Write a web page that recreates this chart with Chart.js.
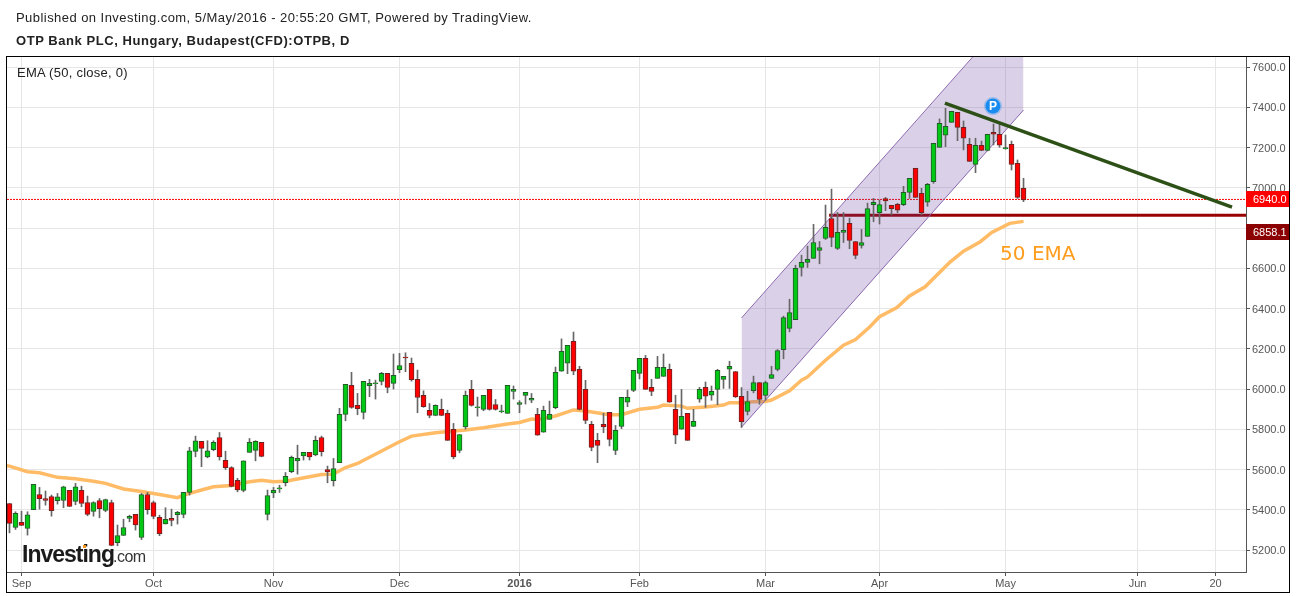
<!DOCTYPE html>
<html>
<head>
<meta charset="utf-8">
<title>OTPB</title>
<script src="https://cdn.jsdelivr.net/npm/chart.js@4/dist/chart.umd.min.js"></script>
<style>
    html, body { margin: 0; padding: 0; background: #fff; overflow: hidden; }
    #wrap { position: relative; width: 1297px; height: 596px; font-family: "Liberation Sans", Arial, sans-serif; }
    canvas { position: absolute; left: 0; top: 0; }
    .label { position: absolute; white-space: nowrap; color: #222; }
    #published { left: 16px; top: 10px; font-size: 13px; letter-spacing: 0.447px; }
    #symbol { left: 16px; top: 33px; font-size: 13px; font-weight: bold; letter-spacing: 0.556px; }
    #emaLabel { left: 17px; top: 65px; font-size: 13px; letter-spacing: 0.26px; }
</style>
</head>
<body>
<div id="wrap">
    <canvas id="chart" width="1297" height="596"></canvas>
    <div class="label" id="published">Published on Investing.com, 5/May/2016 - 20:55:20 GMT, Powered by TradingView.</div>
    <div class="label" id="symbol">OTP Bank PLC, Hungary, Budapest(CFD):OTPB, D</div>
    <div class="label" id="emaLabel">EMA (50, close, 0)</div>
</div>
<script>
// daily candles
const opens = [
    5431, 5312, 5337, 5307, 5401, 5476, 5456, 5466, 5445, 5446,
    5496, 5441, 5496, 5436, 5392, 5446, 5397, 5436, 5236, 5272,
    5357, 5377, 5262, 5476, 5436, 5362, 5330, 5357, 5375, 5377,
    5486, 5690, 5740, 5663, 5698, 5759, 5645, 5610, 5546, 5496,
    5685, 5695, 5735, 5377, 5484, 5504, 5534, 5589, 5643, 5668,
    5685, 5673, 5759, 5600, 5544, 5634, 5874, 6018, 5919, 5884,
    6016, 6026, 6038, 6078, 6028, 6096, 6159, 6127, 6048, 5968,
    5894, 5869, 5899, 5879, 5799, 5695, 5812, 5998, 5907, 5899,
    5998, 5923, 5887, 5879, 5988, 5923, 5968, 5944, 5874, 5785,
    5849, 5907, 6088, 6128, 6237, 6098, 5998, 5824, 5745, 5824,
    5884, 5695, 5814, 5934, 5993, 6078, 6152, 6008, 6053, 6063,
    6098, 5899, 5800, 5879, 5814, 5949, 6008, 5969, 5998, 6048,
    6098, 6087, 5963, 5888, 5992, 6032, 5968, 6052, 6097, 6196,
    6301, 6345, 6604, 6629, 6649, 6688, 6748, 6847, 6698, 6778,
    6823, 6733, 6713, 6758, 6916, 6876, 6946, 6913, 6918, 6916,
    6977, 7097, 6972, 6928, 7030, 7201, 7261, 7325, 7375, 7300,
    7216, 7116, 7211, 7186, 7276, 7266, 7194, 7216, 7121, 6997
];
const highs = [
    5431, 5390, 5393, 5390, 5526, 5511, 5493, 5473, 5481, 5517,
    5496, 5531, 5517, 5468, 5440, 5456, 5453, 5448, 5324, 5353,
    5373, 5377, 5481, 5486, 5443, 5373, 5410, 5403, 5392, 5486,
    5710, 5766, 5740, 5743, 5743, 5784, 5691, 5614, 5556, 5643,
    5754, 5743, 5735, 5498, 5511, 5522, 5585, 5667, 5721, 5685,
    5685, 5766, 5766, 5617, 5655, 5904, 6023, 6083, 5978, 6038,
    6048, 6044, 6083, 6078, 6174, 6177, 6180, 6154, 6094, 5991,
    5928, 5921, 5950, 5895, 5829, 5774, 5990, 6043, 5960, 5968,
    5998, 5948, 5920, 6018, 6015, 5942, 5983, 5978, 5904, 5915,
    5940, 6109, 6249, 6217, 6283, 6113, 6043, 5839, 5780, 5879,
    5884, 5819, 5959, 5995, 6093, 6152, 6167, 6048, 6162, 6174,
    6124, 5969, 5998, 5879, 5899, 6008, 6035, 6015, 6098, 6063,
    6138, 6087, 6007, 5989, 6064, 6032, 6039, 6113, 6196, 6362,
    6446, 6615, 6665, 6710, 6818, 6733, 6914, 6993, 6877, 6877,
    6849, 6733, 6793, 6924, 6947, 6939, 6952, 6913, 6923, 7007,
    7047, 7097, 6997, 7022, 7221, 7342, 7395, 7380, 7375, 7332,
    7246, 7246, 7232, 7266, 7317, 7320, 7262, 7232, 7138, 7047
];
const lows = [
    5285, 5302, 5322, 5274, 5401, 5403, 5423, 5368, 5428, 5410,
    5416, 5425, 5415, 5370, 5368, 5360, 5390, 5221, 5221, 5272,
    5340, 5299, 5252, 5378, 5355, 5271, 5329, 5320, 5329, 5360,
    5473, 5663, 5614, 5658, 5693, 5647, 5600, 5514, 5489, 5489,
    5685, 5643, 5663, 5349, 5460, 5486, 5518, 5584, 5577, 5647,
    5647, 5668, 5667, 5534, 5518, 5634, 5842, 5904, 5872, 5851,
    5962, 5950, 6020, 5981, 6000, 6081, 6086, 6039, 5882, 5909,
    5857, 5867, 5867, 5745, 5653, 5683, 5801, 5915, 5865, 5892,
    5895, 5895, 5882, 5879, 5950, 5882, 5925, 5932, 5770, 5785,
    5849, 5902, 6088, 6076, 6071, 5896, 5828, 5693, 5634, 5783,
    5717, 5674, 5803, 5912, 5987, 6050, 5998, 5967, 6053, 6063,
    5934, 5728, 5800, 5745, 5814, 5934, 5909, 5944, 5922, 6003,
    6003, 5958, 5809, 5871, 5981, 5924, 5944, 6052, 6090, 6150,
    6284, 6345, 6561, 6604, 6649, 6622, 6743, 6707, 6693, 6728,
    6697, 6647, 6700, 6758, 6831, 6820, 6886, 6865, 6876, 6911,
    6947, 6952, 6865, 6908, 7022, 7201, 7204, 7325, 7234, 7188,
    7131, 7075, 7184, 7183, 7213, 7201, 7191, 7088, 6947, 6931
];
const closes = [
    5332, 5382, 5322, 5375, 5526, 5455, 5446, 5395, 5464, 5514,
    5416, 5514, 5431, 5377, 5436, 5406, 5451, 5223, 5272, 5312,
    5367, 5325, 5476, 5401, 5367, 5281, 5352, 5347, 5387, 5486,
    5693, 5743, 5705, 5693, 5735, 5663, 5609, 5516, 5499, 5643,
    5735, 5740, 5665, 5471, 5496, 5509, 5566, 5660, 5655, 5685,
    5663, 5745, 5688, 5588, 5605, 5874, 6023, 5909, 5902, 6038,
    6028, 6031, 6078, 6008, 6068, 6117, 6154, 6046, 5958, 5912,
    5869, 5919, 5869, 5745, 5663, 5774, 5968, 5919, 5912, 5968,
    5899, 5899, 5892, 6018, 5998, 5933, 5983, 5954, 5770, 5894,
    5874, 6083, 6187, 6217, 6088, 5899, 5844, 5710, 5720, 5812,
    5750, 5795, 5959, 5959, 6093, 6152, 5998, 5988, 6108, 6108,
    5934, 5770, 5864, 5745, 5839, 5998, 5964, 5988, 6093, 6063,
    6113, 5961, 5838, 5938, 6032, 5948, 6032, 6072, 6191, 6355,
    6380, 6599, 6629, 6644, 6728, 6703, 6803, 6753, 6778, 6788,
    6738, 6664, 6728, 6897, 6928, 6916, 6934, 6896, 6888, 6977,
    7047, 6952, 6876, 7017, 7221, 7320, 7305, 7380, 7300, 7246,
    7131, 7211, 7186, 7266, 7266, 7211, 7199, 7116, 6952, 6940
];

// 50 EMA, sampled along the orange line
const emaIndex = [
    -1, 0, 3, 5, 8, 11, 14, 16, 19, 22, 25, 28, 29, 32, 34, 37, 40, 42, 44, 46,
    50, 52, 54, 56, 58, 65, 67, 71, 74, 76, 79, 83, 85, 87, 88, 91, 94, 96, 100, 102,
    105, 108, 109, 112, 113, 116, 119, 120, 122, 124, 126, 127, 130, 132, 133, 136, 139, 141, 143.4, 145,
    147.9, 150, 152.6, 156.8, 159, 161.8, 163.7, 166.7, 169
];
const emaValues = [
    5622, 5617, 5589, 5584, 5561, 5554, 5542, 5531, 5503, 5491, 5476, 5460, 5473, 5498, 5514, 5521, 5539, 5547, 5539, 5542,
    5564, 5575, 5577, 5610, 5630, 5738, 5766, 5783, 5791, 5796, 5807, 5826, 5834, 5851, 5848, 5866, 5896, 5891, 5872, 5872,
    5899, 5909, 5920, 5915, 5904, 5911, 5920, 5932, 5932, 5937, 5938, 5945, 5991, 6044, 6060, 6143, 6218, 6246, 6309, 6359,
    6405, 6462, 6508, 6632, 6685, 6732, 6778, 6823, 6833
];

// drawings on the chart: [bar index, price]
const channelUpper = [[122, 6353], [169, 7935]];
const channelLower = [[122, 5810], [169, 7386]];
const trendLine = [[155.9, 7421], [203.75, 6904]];
const supportLine = [[136.6, 6863], [207, 6863]];

const lastPrice = 6942;
const priceTicks = [5200, 5400, 5600, 5800, 6000, 6200, 6400, 6600, 6800, 7000, 7200, 7400, 7600];
const timeTicks = [2, 24, 44, 65, 85, 105, 126, 145, 166, 188, 201];
const timeLabels = ['Sep', 'Oct', 'Nov', 'Dec', '2016', 'Feb', 'Mar', 'Apr', 'May', 'Jun', '20'];

const xMin = -0.4167;
const xMax = 206.08;
const yMin = 5090.7;
const yMax = 7649.7;

const pts = arr => arr.map(p => ({ x: p[0], y: p[1] }));
const isUp = i => closes[i] >= opens[i];

const wicks = highs.map((h, i) => ({ x: i, y: [lows[i], h] }));
const bodies = opens.map((o, i) => ({ x: i, y: [o, closes[i]] }));
const ema = emaIndex.map((x, i) => ({ x: x, y: emaValues[i] }));

// tags, frame, watermark and the P badge
const extras = {
    id: 'extras',
    afterDraw(chart) {
        const ctx = chart.ctx;
        const xs = chart.scales.x;
        const ys = chart.scales.y;
        ctx.save();

        // P badge
        const px = xs.getPixelForValue(163.9);
        const py = ys.getPixelForValue(7406);
        ctx.fillStyle = 'rgba(30, 144, 240, 0.35)';
        ctx.beginPath();
        ctx.arc(px, py, 9, 0, Math.PI * 2);
        ctx.fill();
        ctx.fillStyle = '#1a8cf0';
        ctx.beginPath();
        ctx.arc(px, py, 7.5, 0, Math.PI * 2);
        ctx.fill();
        ctx.fillStyle = '#fff';
        ctx.font = 'bold 12px "Liberation Sans"';
        ctx.textAlign = 'center';
        ctx.textBaseline = 'middle';
        ctx.fillText('P', px, py + 0.5);

        // 50 EMA note
        ctx.fillStyle = '#ff9d1e';
        ctx.font = '20px "DejaVu Sans"';
        ctx.textAlign = 'left';
        ctx.textBaseline = 'alphabetic';
        ctx.fillText('50 EMA', xs.getPixelForValue(165.1), ys.getPixelForValue(6642));

        // price tags
        const tag = (text, value, color) => {
            const y = ys.getPixelForValue(value);
            ctx.fillStyle = color;
            ctx.fillRect(1246, Math.round(y) - 8, 43, 16);
            ctx.fillStyle = '#fff';
            ctx.font = '11px "Liberation Sans"';
            ctx.textBaseline = 'middle';
            ctx.fillText(text, 1253, Math.round(y) + 0.5);
        };
        tag('6940.0', lastPrice, '#ff0000');
        tag('6858.1', 6780, '#8b0000');

        // watermark
        ctx.fillStyle = '#1a1a1a';
        ctx.textBaseline = 'alphabetic';
        ctx.font = 'bold 23px "Liberation Sans"';
        ctx.letterSpacing = '-1px';
        ctx.fillText('Investing', 22, 562);
        ctx.letterSpacing = '-0.5px';
        ctx.font = '16px "Liberation Sans"';
        ctx.fillStyle = '#333';
        ctx.fillText('.com', 113, 562);
        ctx.letterSpacing = '0px';
        ctx.fillStyle = '#f7941d';
        ctx.fillRect(83, 545, 3, 3);

        // outer frame
        ctx.strokeStyle = '#000';
        ctx.lineWidth = 1;
        ctx.strokeRect(6.5, 56.5, 1283, 536);
        ctx.restore();
    }
};

new Chart(document.getElementById('chart'), {
    type: 'bar',
    data: {
        datasets: [
            {
                type: 'line', data: pts([[xMin, lastPrice], [xMax, lastPrice]]), order: 7,
                borderColor: '#ff0000', borderWidth: 1, borderDash: [2, 1], pointRadius: 0
            },
            {
                type: 'line', data: ema, order: 6,
                borderColor: '#ffbb66', borderWidth: 3.5, pointRadius: 0
            },
            {
                type: 'line', data: pts(supportLine), order: 5,
                borderColor: '#990000', borderWidth: 3, pointRadius: 0
            },
            {
                type: 'line', data: pts(channelUpper), order: 4, fill: '+1',
                borderColor: '#8e6bb0', borderWidth: 1, pointRadius: 0,
                backgroundColor: 'rgba(102, 62, 160, 0.24)'
            },
            {
                type: 'line', data: pts(channelLower), order: 4, fill: false,
                borderColor: '#8e6bb0', borderWidth: 1, pointRadius: 0
            },
            {
                data: wicks, order: 3, grouped: false, barThickness: 1,
                backgroundColor: '#666666', borderWidth: 0
            },
            {
                data: bodies, order: 2, grouped: false, barThickness: 5,
                backgroundColor: opens.map((o, i) => isUp(i) ? '#00c814' : '#ff0000'),
                borderColor: opens.map((o, i) => isUp(i) ? '#26592a' : '#6e2222'),
                borderWidth: 1, borderSkipped: false
            },
            {
                type: 'line', data: pts(trendLine), order: 1,
                borderColor: '#2d5016', borderWidth: 3.5, pointRadius: 0
            }
        ]
    },
    options: {
        responsive: false,
        animation: false,
        events: [],
        layout: { padding: { left: 7, top: 57, right: 7, bottom: 3 } },
        plugins: { legend: { display: false }, tooltip: { enabled: false } },
        scales: {
            x: {
                type: 'linear',
                offset: false,
                min: xMin,
                max: xMax,
                afterBuildTicks: axis => { axis.ticks = timeTicks.map(v => ({ value: v })); },
                afterFit: axis => { axis.height = 21; },
                grid: { offset: false, color: '#e6e6e6', tickColor: '#555', tickLength: 4 },
                border: { color: '#555' },
                ticks: {
                    autoSkip: false,
                    maxRotation: 0,
                    padding: 1,
                    color: '#555',
                    font: ctx => ({ family: '"Liberation Sans"', size: 11, weight: ctx.index === 4 ? 'bold' : 'normal' }),
                    callback: (value, index) => timeLabels[index]
                }
            },
            y: {
                position: 'right',
                min: yMin,
                max: yMax,
                afterBuildTicks: axis => { axis.ticks = priceTicks.map(v => ({ value: v })); },
                afterFit: axis => { axis.width = 44; },
                grid: { color: '#e6e6e6', tickColor: '#555', tickLength: 4 },
                border: { color: '#555' },
                ticks: {
                    padding: 2,
                    labelOffset: 1,
                    color: '#555',
                    font: { family: '"Liberation Sans"', size: 11 },
                    callback: value => value.toFixed(1)
                }
            }
        }
    },
    plugins: [extras]
});
</script>
</body>
</html>
